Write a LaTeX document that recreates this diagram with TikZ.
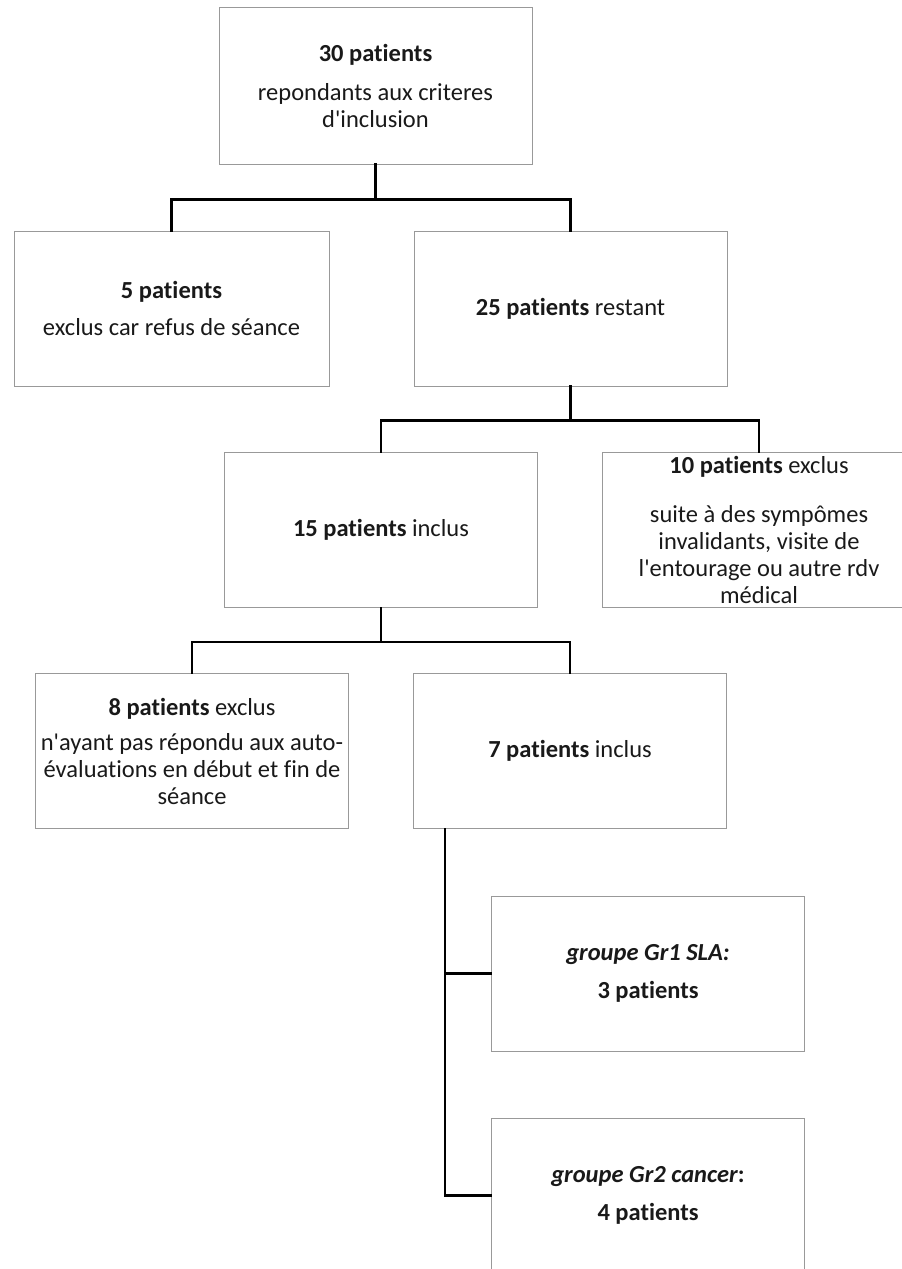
\documentclass[tikz,border=0pt]{standalone}
\usepackage{fontspec}
\setmainfont{Carlito}[Ligatures={TeXOff,NoCommon}]
\usetikzlibrary{calc}
\begin{document}
\begin{tikzpicture}[x=1pt,y=-1pt,
  box/.style={draw=black!40,line width=1pt,rectangle,minimum width=313pt,minimum height=155pt,
    inner sep=0pt,align=center,font=\fontsize{24.5}{27}\selectfont,text=black!90},
  conn/.style={draw=black,line width=2.5pt,line cap=rect}]
\useasboundingbox (0,0) rectangle (902,1269);
\node[box,minimum height=157pt] (b1) at (375.5,85.5) {\textbf{30 patients}\\[12pt]repondants aux criteres\\d'inclusion};
\node[box,minimum width=315pt] (b2) at (171.5,308.5) {\textbf{5 patients}\\[10pt]exclus car refus de séance};
\node[box] (b3) at (570.5,308.5) {\textbf{25 patients} restant};
\node[box] (b4) at (381,530) {\textbf{15 patients} inclus};
\node[box] (b5) at (759,530) {\textbf{10 patients} exclus\\[22pt]suite à des sympômes\\invalidants, visite de\\l'entourage ou autre rdv\\médical};
\node[box] (b6) at (192,751) {\textbf{8 patients} exclus\\[8pt]n'ayant pas répondu aux auto-\\évaluations en début et fin de\\séance};
\node[box] (b7) at (570,751) {\textbf{7 patients} inclus};
\node[box] (b8) at (648,973.5) {\textbf{\textit{groupe Gr1 SLA:}}\\[11pt]\textbf{3 patients}};
\node[box] (b9) at (648,1195.5) {\textbf{\textit{groupe Gr2 cancer}}\textbf{:}\\[11pt]\textbf{4 patients}};
\draw[conn] (b1.south) -- ++(0,35) -| (b2.north);
\draw[conn] (b1.south) -- ++(0,35) -| (b3.north);
\draw[conn] (b3.south) -- ++(0,34) -| (b4.north);
\draw[conn] (b3.south) -- ++(0,34) -| (b5.north);
\draw[conn] (b4.south) -- ++(0,34) -| (b6.north);
\draw[conn] (b4.south) -- ++(0,34) -| (b7.north);
\draw[conn] ([xshift=32pt]b7.south west) |- (b8.west);
\draw[conn] ([xshift=32pt]b7.south west) |- (b9.west);
\end{tikzpicture}
\end{document}
